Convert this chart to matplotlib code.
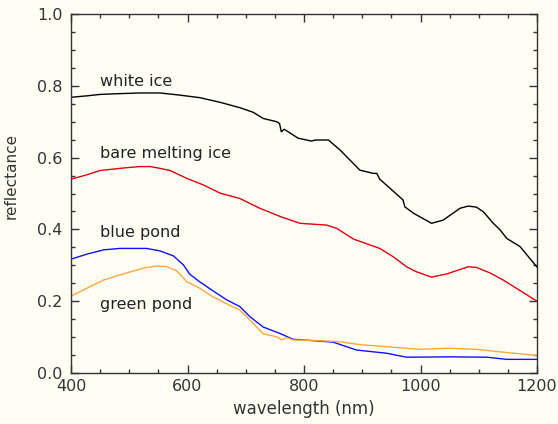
import matplotlib.pyplot as plt
from matplotlib.ticker import MultipleLocator

# spectral albedo readings
white_wl = [400, 427, 450, 480, 518, 553, 587, 621, 656, 690, 713, 730, 753, 758, 761, 766,
            790, 813, 819, 842, 862, 896, 919, 925, 930, 948, 970, 973, 988, 1019, 1039,
            1068, 1082, 1096, 1108, 1125, 1137, 1148, 1171, 1200]
white_ice = [0.768, 0.772, 0.776, 0.778, 0.780, 0.780, 0.774, 0.767, 0.754, 0.739, 0.726,
             0.709, 0.700, 0.695, 0.672, 0.679, 0.654, 0.646, 0.649, 0.649, 0.621, 0.565,
             0.556, 0.556, 0.540, 0.514, 0.482, 0.463, 0.445, 0.417, 0.426, 0.459, 0.465,
             0.462, 0.449, 0.417, 0.398, 0.375, 0.352, 0.295]

bare_wl = [400, 427, 450, 467, 496, 518, 536, 553, 570, 599, 627, 656, 690, 724, 759, 793,
           839, 856, 885, 930, 953, 976, 993, 1019, 1045, 1082, 1096, 1119, 1142, 1200]
bare_ice = [0.540, 0.552, 0.564, 0.567, 0.572, 0.575, 0.575, 0.570, 0.564, 0.542, 0.524,
            0.501, 0.486, 0.459, 0.436, 0.417, 0.412, 0.403, 0.373, 0.347, 0.324, 0.296,
            0.282, 0.267, 0.276, 0.296, 0.294, 0.279, 0.259, 0.200]

blue_wl = [400, 427, 456, 484, 530, 553, 576, 593, 604, 621, 639, 667, 690, 707, 730, 759,
           781, 816, 850, 890, 942, 976, 1051, 1114, 1148, 1200]
blue_pond = [0.317, 0.331, 0.343, 0.347, 0.347, 0.340, 0.326, 0.301, 0.275, 0.254, 0.234,
             0.204, 0.185, 0.157, 0.128, 0.110, 0.094, 0.090, 0.086, 0.064, 0.055, 0.044,
             0.045, 0.044, 0.038, 0.038]

green_wl = [400, 427, 456, 496, 524, 547, 564, 581, 599, 621, 644, 667, 690, 707, 730, 753,
            762, 770, 781, 827, 862, 896, 959, 999, 1051, 1096, 1136, 1200]
green_pond = [0.214, 0.236, 0.259, 0.279, 0.292, 0.298, 0.296, 0.285, 0.254, 0.236, 0.212,
              0.193, 0.175, 0.148, 0.109, 0.101, 0.092, 0.099, 0.092, 0.090, 0.087, 0.079,
              0.071, 0.066, 0.069, 0.066, 0.059, 0.049]

labels = ["white ice", "bare melting ice", "blue pond", "green pond"]
label_y = [0.80, 0.60, 0.38, 0.177]

bg = '#fffef4'
fig = plt.figure(figsize=(5.58, 4.24), dpi=100, facecolor=bg)
ax = fig.add_axes([71/558, 1 - 373/424, 466/558, 359/424], facecolor=bg)

ax.plot(white_wl, white_ice, color='black', lw=1.0)
ax.plot(bare_wl, bare_ice, color='#e00010', lw=1.0)
ax.plot(blue_wl, blue_pond, color='#1010ff', lw=1.0)
ax.plot(green_wl, green_pond, color='#ffa640', lw=1.0)

for text, y in zip(labels, label_y):
    ax.text(450, y, text, fontsize=11.5, color='#222222', va='baseline', ha='left')

ax.set_xlim(400, 1200)
ax.set_ylim(0, 1.0)
ax.xaxis.set_major_locator(MultipleLocator(200))
ax.xaxis.set_minor_locator(MultipleLocator(50))
ax.yaxis.set_major_locator(MultipleLocator(0.2))
ax.yaxis.set_minor_locator(MultipleLocator(0.05))
ax.xaxis.set_major_formatter(plt.FuncFormatter(lambda v, p: '%d' % v))
ax.yaxis.set_major_formatter(plt.FuncFormatter(lambda v, p: '%.1f' % v))

ax.tick_params(which='both', direction='in', top=True, right=True,
               labeltop=False, labelright=False, color='#333333',
               labelsize=11.5, labelcolor='#333333', width=1.0)
ax.tick_params(which='major', length=6, pad=4)
ax.tick_params(axis='y', which='major', pad=6)
ax.tick_params(which='minor', length=3)
for s in ax.spines.values():
    s.set_color('#333333')
    s.set_linewidth(1.0)

ax.set_xlabel("wavelength (nm)", fontsize=12, color='#333333', labelpad=5)
ax.set_ylabel("reflectance", fontsize=11, color='#333333')
ax.yaxis.set_label_coords(-0.112, 0.55)

fig.savefig('out.png', dpi=100, facecolor=bg)
